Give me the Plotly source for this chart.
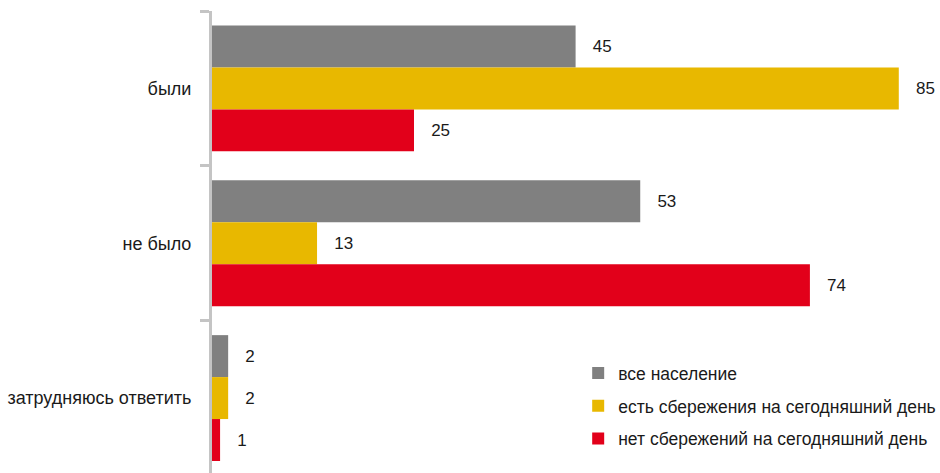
import plotly.graph_objects as go

categories = ["были", "не было", "затрудняюсь ответить"]
series_names = ["все население", "есть сбережения на сегодняшний день", "нет сбережений на сегодняшний день"]
vals_all = [45, 53, 2]
vals_have = [85, 13, 2]
vals_none = [25, 74, 1]
colors = ["#808080", "#E8B800", "#E2001A"]

FONT = "Liberation Sans, Arial, sans-serif"

fig = go.Figure()
for i, (name, vals) in enumerate(zip(series_names, [vals_all, vals_have, vals_none])):
    fig.add_trace(go.Bar(
        y=categories, x=vals, name=name, orientation="h",
        marker=dict(color=colors[i], line=dict(width=0)),
        text=vals, texttemplate="   %{x}", textposition="outside",
        textfont=dict(size=17, color="#1a1a1a", family=FONT),
        cliponaxis=False, legendgroup=f"g{i}",
    ))

fig.update_layout(
    width=940, height=473,
    margin=dict(l=212, r=0, t=11, b=0, autoexpand=False),
    paper_bgcolor="white", plot_bgcolor="white",
    barmode="group", bargap=0.187, bargroupgap=0,
    font=dict(family=FONT, size=17, color="#1a1a1a"),
    showlegend=True,
    legend=dict(x=0.503, xanchor="left", y=0.255, yanchor="top",
                font=dict(size=17.5, color="#1a1a1a", family=FONT),
                tracegroupgap=7, bgcolor="rgba(0,0,0,0)"),
    xaxis=dict(range=[0, 90.1], showgrid=False, zeroline=False, showline=False,
               showticklabels=False, ticks=""),
    yaxis=dict(type="category", range=[2.484, -0.5], showgrid=False, zeroline=False,
               showline=True, linecolor="#c4c4c4", linewidth=3,
               ticks="outside", tickson="boundaries", ticklen=9, tickwidth=3,
               tickcolor="#c4c4c4", ticklabelstandoff=14,
               tickfont=dict(size=18, color="#1a1a1a", family=FONT)),
)

fig.write_html("out.html", config={"displayModeBar": False},
               post_script="document.body.style.margin='0';")
